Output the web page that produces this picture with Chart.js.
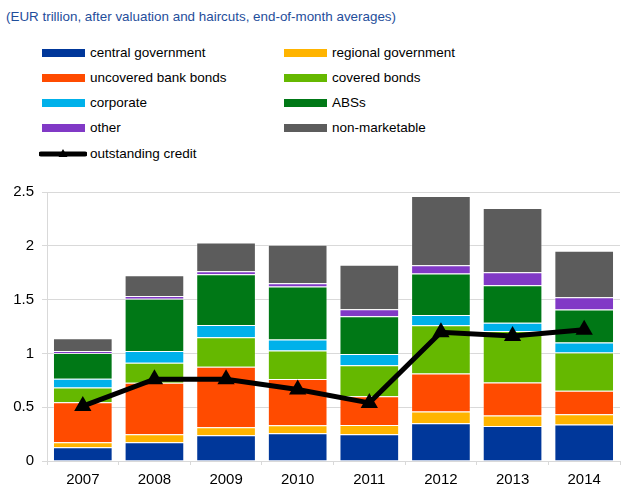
<!DOCTYPE html>
<html>
<head>
<meta charset="utf-8">
<script src="https://cdn.jsdelivr.net/npm/chart.js@4"></script>
<style>
  html, body { margin: 0; padding: 0; width: 625px; height: 501px; overflow: hidden; background: #fff; }
  body { position: relative; font-family: "Liberation Sans", Arial, sans-serif; }
  #title { position: absolute; left: 6px; top: 9px; font-size: 13.4px; color: #1F4E9B; white-space: nowrap; }
  #legend { position: absolute; left: 0; top: 0; width: 625px; height: 170px; }
  .item { position: absolute; font-size: 13.5px; color: #000; white-space: nowrap; line-height: 16px; }
  .sw { position: absolute; width: 43px; height: 8px; }
  #c { position: absolute; left: 0; top: 0; }
</style>
</head>
<body>
<div id="title">(EUR trillion, after valuation and haircuts, end-of-month averages)</div>
<div id="legend"></div>
<canvas id="c" width="630" height="501"></canvas>
<script>
// ---- data ----
const years = ['2007', '2008', '2009', '2010', '2011', '2012', '2013', '2014'];
const centralGovernment  = [0.127, 0.174, 0.239, 0.258, 0.248, 0.351, 0.326, 0.339];
const regionalGovernment = [0.047, 0.074, 0.075, 0.074, 0.087, 0.109, 0.096, 0.096];
const uncoveredBankBonds = [0.373, 0.479, 0.562, 0.429, 0.267, 0.354, 0.308, 0.217];
const coveredBonds       = [0.136, 0.186, 0.273, 0.267, 0.289, 0.447, 0.478, 0.357];
const corporate          = [0.081, 0.109, 0.115, 0.102, 0.103, 0.096, 0.078, 0.093];
const absValues          = [0.239, 0.487, 0.472, 0.491, 0.351, 0.385, 0.348, 0.305];
const other              = [0.019, 0.025, 0.028, 0.031, 0.065, 0.078, 0.121, 0.115];
const nonMarketable      = [0.118, 0.193, 0.267, 0.357, 0.413, 0.643, 0.596, 0.431];
const outstandingCredit  = [0.51, 0.76, 0.76, 0.665, 0.54, 1.196, 1.161, 1.22];
const yTickValues = [0, 0.5, 1, 1.5, 2, 2.5];
const yTickLabels = ['0', '0.5', '1', '1.5', '2', '2.5'];

const barSeries = [
  { label: 'central government',   data: centralGovernment,  color: '#00379A' },
  { label: 'regional government',  data: regionalGovernment, color: '#FFB400' },
  { label: 'uncovered bank bonds', data: uncoveredBankBonds, color: '#FF4B00' },
  { label: 'covered bonds',        data: coveredBonds,       color: '#65B800' },
  { label: 'corporate',            data: corporate,          color: '#00B1EA' },
  { label: 'ABSs',                 data: absValues,          color: '#007816' },
  { label: 'other',                data: other,              color: '#8139C6' },
  { label: 'non-marketable',       data: nonMarketable,      color: '#5C5C5C' }
];

const datasets = [{
  type: 'line',
  label: 'outstanding credit',
  data: outstandingCredit,
  stack: 'line',
  borderColor: '#000',
  backgroundColor: '#000',
  borderWidth: 5,
  pointStyle: 'triangle',
  pointRadius: 10,
  pointHoverRadius: 10,
  pointBorderWidth: 0,
  tension: 0,
  order: 0
}].concat(barSeries.map(s => ({
  type: 'bar',
  label: s.label,
  data: s.data,
  stack: 'bars',
  backgroundColor: s.color,
  borderColor: 'rgba(255,255,255,0.3)',
  borderWidth: 1,
  categoryPercentage: 1.0,
  barPercentage: 0.833,
  order: 1
})));

// ---- legend (HTML, built from the series) ----
const legend = document.getElementById('legend');
const rowY = [53, 78, 103, 128, 154];
const colX = [42, 284];
barSeries.forEach((s, i) => {
  const col = i % 2, row = Math.floor(i / 2);
  const sw = document.createElement('div');
  sw.className = 'sw';
  sw.style.left = colX[col] + 'px';
  sw.style.top = (rowY[row] - 4) + 'px';
  sw.style.background = s.color;
  legend.appendChild(sw);
  const t = document.createElement('div');
  t.className = 'item';
  t.style.left = (colX[col] + 48) + 'px';
  t.style.top = (rowY[row] - 8) + 'px';
  t.textContent = s.label;
  legend.appendChild(t);
});
(function () {
  const ns = 'http://www.w3.org/2000/svg';
  const svg = document.createElementNS(ns, 'svg');
  svg.setAttribute('width', '48');
  svg.setAttribute('height', '14');
  svg.style.position = 'absolute';
  svg.style.left = '39px';
  svg.style.top = (rowY[4] - 7) + 'px';
  const ln = document.createElementNS(ns, 'line');
  ln.setAttribute('x1', '2'); ln.setAttribute('x2', '46');
  ln.setAttribute('y1', '7'); ln.setAttribute('y2', '7');
  ln.setAttribute('stroke', '#000'); ln.setAttribute('stroke-width', '5');
  ln.setAttribute('stroke-linecap', 'round');
  svg.appendChild(ln);
  const tri = document.createElementNS(ns, 'polygon');
  tri.setAttribute('points', '24,2 28.5,10 19.5,10');
  tri.setAttribute('fill', '#000');
  svg.appendChild(tri);
  legend.appendChild(svg);
  const t = document.createElement('div');
  t.className = 'item';
  t.style.left = '90px';
  t.style.top = (rowY[4] - 8) + 'px';
  t.textContent = datasets[0].label;
  legend.appendChild(t);
})();

// ---- chart ----
Chart.defaults.font.family = '"Liberation Sans", Arial, sans-serif';
Chart.defaults.color = '#000';

new Chart(document.getElementById('c'), {
  data: { labels: years, datasets: datasets },
  options: {
    responsive: false,
    animation: false,
    events: [],
    layout: { padding: { top: 192, left: 0, right: 0, bottom: 0 } },
    plugins: { legend: { display: false }, tooltip: { enabled: false } },
    scales: {
      x: {
        stacked: true,
        afterFit: (s) => { s.height = 40; },
        grid: { display: true, drawOnChartArea: false, drawTicks: true, tickLength: 4, color: '#D9D9D9', offset: true },
        border: { display: false },
        ticks: { font: { size: 15 }, padding: 6, color: '#000', maxRotation: 0 }
      },
      y: {
        stacked: true,
        min: 0,
        max: 2.5,
        afterFit: (s) => { s.width = 47; },
        afterBuildTicks: (s) => { s.ticks = yTickValues.map(v => ({ value: v })); },
        grid: { color: '#D9D9D9', lineWidth: 1, tickLength: 5 },
        border: { display: true, color: '#D9D9D9' },
        ticks: {
          font: { size: 15 }, padding: 8, color: '#000',
          callback: (v) => yTickLabels[yTickValues.indexOf(v)] ?? String(v)
        }
      }
    }
  }
});
</script>
</body>
</html>
